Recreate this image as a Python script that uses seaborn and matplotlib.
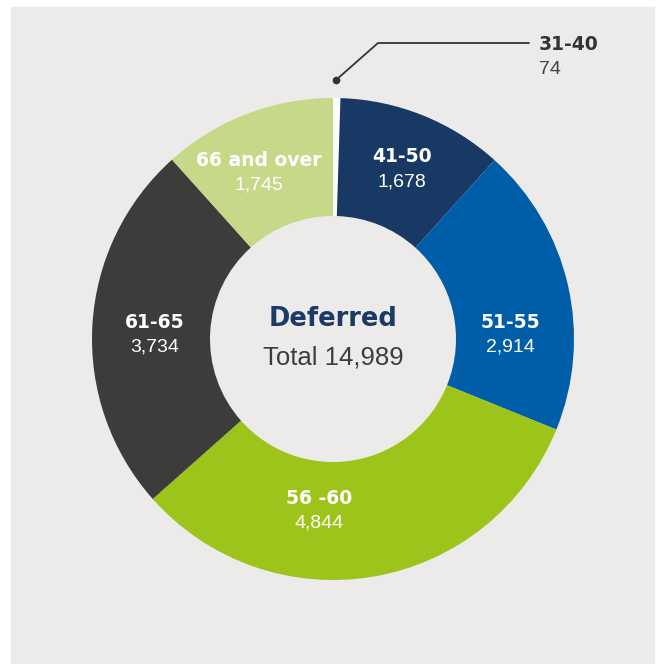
import numpy as np
import matplotlib
matplotlib.use("Agg")
import matplotlib.pyplot as plt
import seaborn as sns
from matplotlib.patches import Rectangle

# data
age_groups = ["31-40", "41-50", "51-55", "56 -60", "61-65", "66 and over"]
members = [74, 1678, 2914, 4844, 3734, 1745]
total = sum(members)
colors = ["#ffffff", "#183963", "#005da8", "#9dc41a", "#3c3c3a", "#c6d988"]

sns.set_theme(style="white")
plt.rcParams['font.family'] = ['Liberation Sans', 'DejaVu Sans']
BOLD = ['DejaVu Sans']

W, H = 656, 664
fig = plt.figure(figsize=(W / 100, H / 100), dpi=100)
ax = fig.add_axes([0, 0, 1, 1])
ax.set_facecolor("none")


def Y(py):
    return H - py


# grey panel
ax.add_patch(Rectangle((11, 0), 654 - 11, H - 7, color="#ecebe9", zorder=-10))

cx, cy = 333, 339
r_out, r_in = 241, 123
ax.pie(members, colors=colors, startangle=90, counterclock=False,
       center=(cx, Y(cy)), radius=r_out,
       wedgeprops=dict(width=r_out - r_in, linewidth=0))

# label positions (pixels) for the slices drawn inside the ring
label_pos = {"41-50": (402, 170), "51-55": (510, 335), "56 -60": (319, 511),
             "61-65": (155, 335), "66 and over": (259, 173)}
for name, val in zip(age_groups, members):
    if name not in label_pos:
        continue
    px, py = label_pos[name]
    ax.text(px, Y(py - 13), name, color="white", fontsize=13.5, fontweight="bold",
            family=BOLD, ha="center", va="center")
    ax.text(px, Y(py + 12), f"{val:,}", color="white", fontsize=14,
            ha="center", va="center")

# leader for the small slice
ax.plot([336, 378, 529], [Y(80), Y(43), Y(43)], color="#333333", lw=1.3)
ax.plot([336], [Y(80)], "o", color="#333333", markersize=4.5)
ax.text(539, Y(45), age_groups[0], color="#333333", fontsize=13.5, fontweight="bold",
        family=BOLD, ha="left", va="center")
ax.text(539, Y(70), f"{members[0]:,}", color="#444444", fontsize=14,
        ha="left", va="center")

# centre
ax.text(cx, Y(319), "Deferred", color="#1b3a66", fontsize=18.5, fontweight="bold",
        family=BOLD, ha="center", va="center")
ax.text(cx, Y(357), f"Total {total:,}", color="#3c3c3c", fontsize=18.5,
        ha="center", va="center")

ax.set_xlim(0, W)
ax.set_ylim(0, H)
ax.set_aspect("equal")
ax.axis("off")
fig.savefig("out.png", dpi=100, facecolor="white")
